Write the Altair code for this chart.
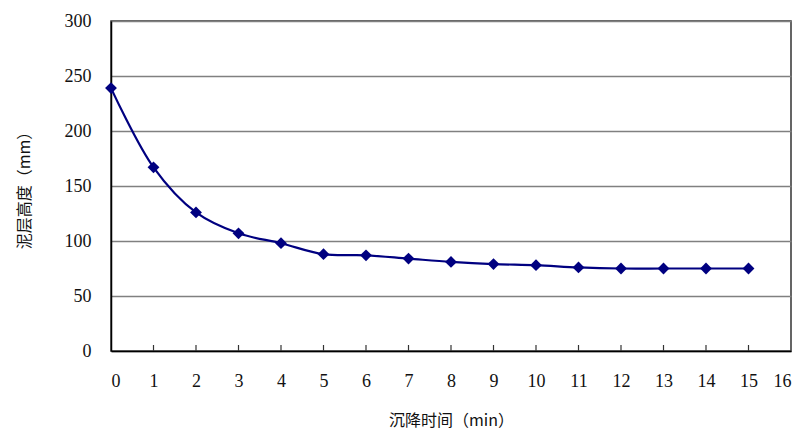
import altair as alt
import pandas as pd

times = list(range(16))
heights = [239, 167, 126, 107, 98, 88, 87, 84, 81, 79, 78, 76, 75, 75, 75, 75]
x_ticks = list(range(17))
y_ticks = [0, 50, 100, 150, 200, 250, 300]

df = pd.DataFrame({"t": times, "h": heights})
tick_df = pd.DataFrame({"t": list(range(1, 16))})

FONT = "Times New Roman, Liberation Serif, DejaVu Serif, serif"
CJK = "Noto Sans CJK SC"
W, H = 680, 330

xscale = alt.Scale(domain=[0, 16], nice=False)
yscale = alt.Scale(domain=[0, 300], nice=False)

xaxis = alt.Axis(title="沉降时间（min）", values=x_ticks, format="d",
                 grid=False, ticks=False, labelPadding=21, titlePadding=22,
                 domainColor="#000000", domainWidth=1.5,
                 labelFont=FONT, labelFontSize=18, labelColor="#111111",
                 titleFont=CJK, titleFontSize=16, titleFontWeight="normal", titleColor="#111111")
yaxis = alt.Axis(title="泥层高度（mm）", values=y_ticks, grid=True,
                 gridColor="#808080", gridWidth=1.5, ticks=False,
                 labelPadding=20, titlePadding=32,
                 domainColor="#000000", domainWidth=1.5,
                 labelFont=FONT, labelFontSize=18, labelColor="#111111",
                 titleFont=CJK, titleFontSize=16, titleFontWeight="normal", titleColor="#111111")

base = alt.Chart(df)

line = base.mark_line(color="#000080", strokeWidth=2.2, interpolate="catmull-rom").encode(
    x=alt.X("t:Q", scale=xscale, axis=xaxis),
    y=alt.Y("h:Q", scale=yscale, axis=yaxis),
)

points = base.mark_point(shape="diamond", filled=True, color="#000080", size=140, opacity=1).encode(
    x=alt.X("t:Q", scale=xscale, axis=xaxis),
    y=alt.Y("h:Q", scale=yscale, axis=yaxis),
)

ticks = alt.Chart(tick_df).mark_rule(color="#333333", strokeWidth=1.2).encode(
    x=alt.X("t:Q", scale=xscale, axis=xaxis),
    y=alt.value(H),
    y2=alt.value(H - 6),
)

chart = alt.layer(line, ticks, points).properties(
    width=W, height=H,
    background="white",
    autosize=alt.AutoSizeParams(type="none"),
    padding={"left": 103, "top": 13, "right": 5, "bottom": 78},
).configure_view(
    stroke="#333333", strokeWidth=1.5
)

chart.save("out.html", embed_options={"renderer": "svg", "actions": False})
